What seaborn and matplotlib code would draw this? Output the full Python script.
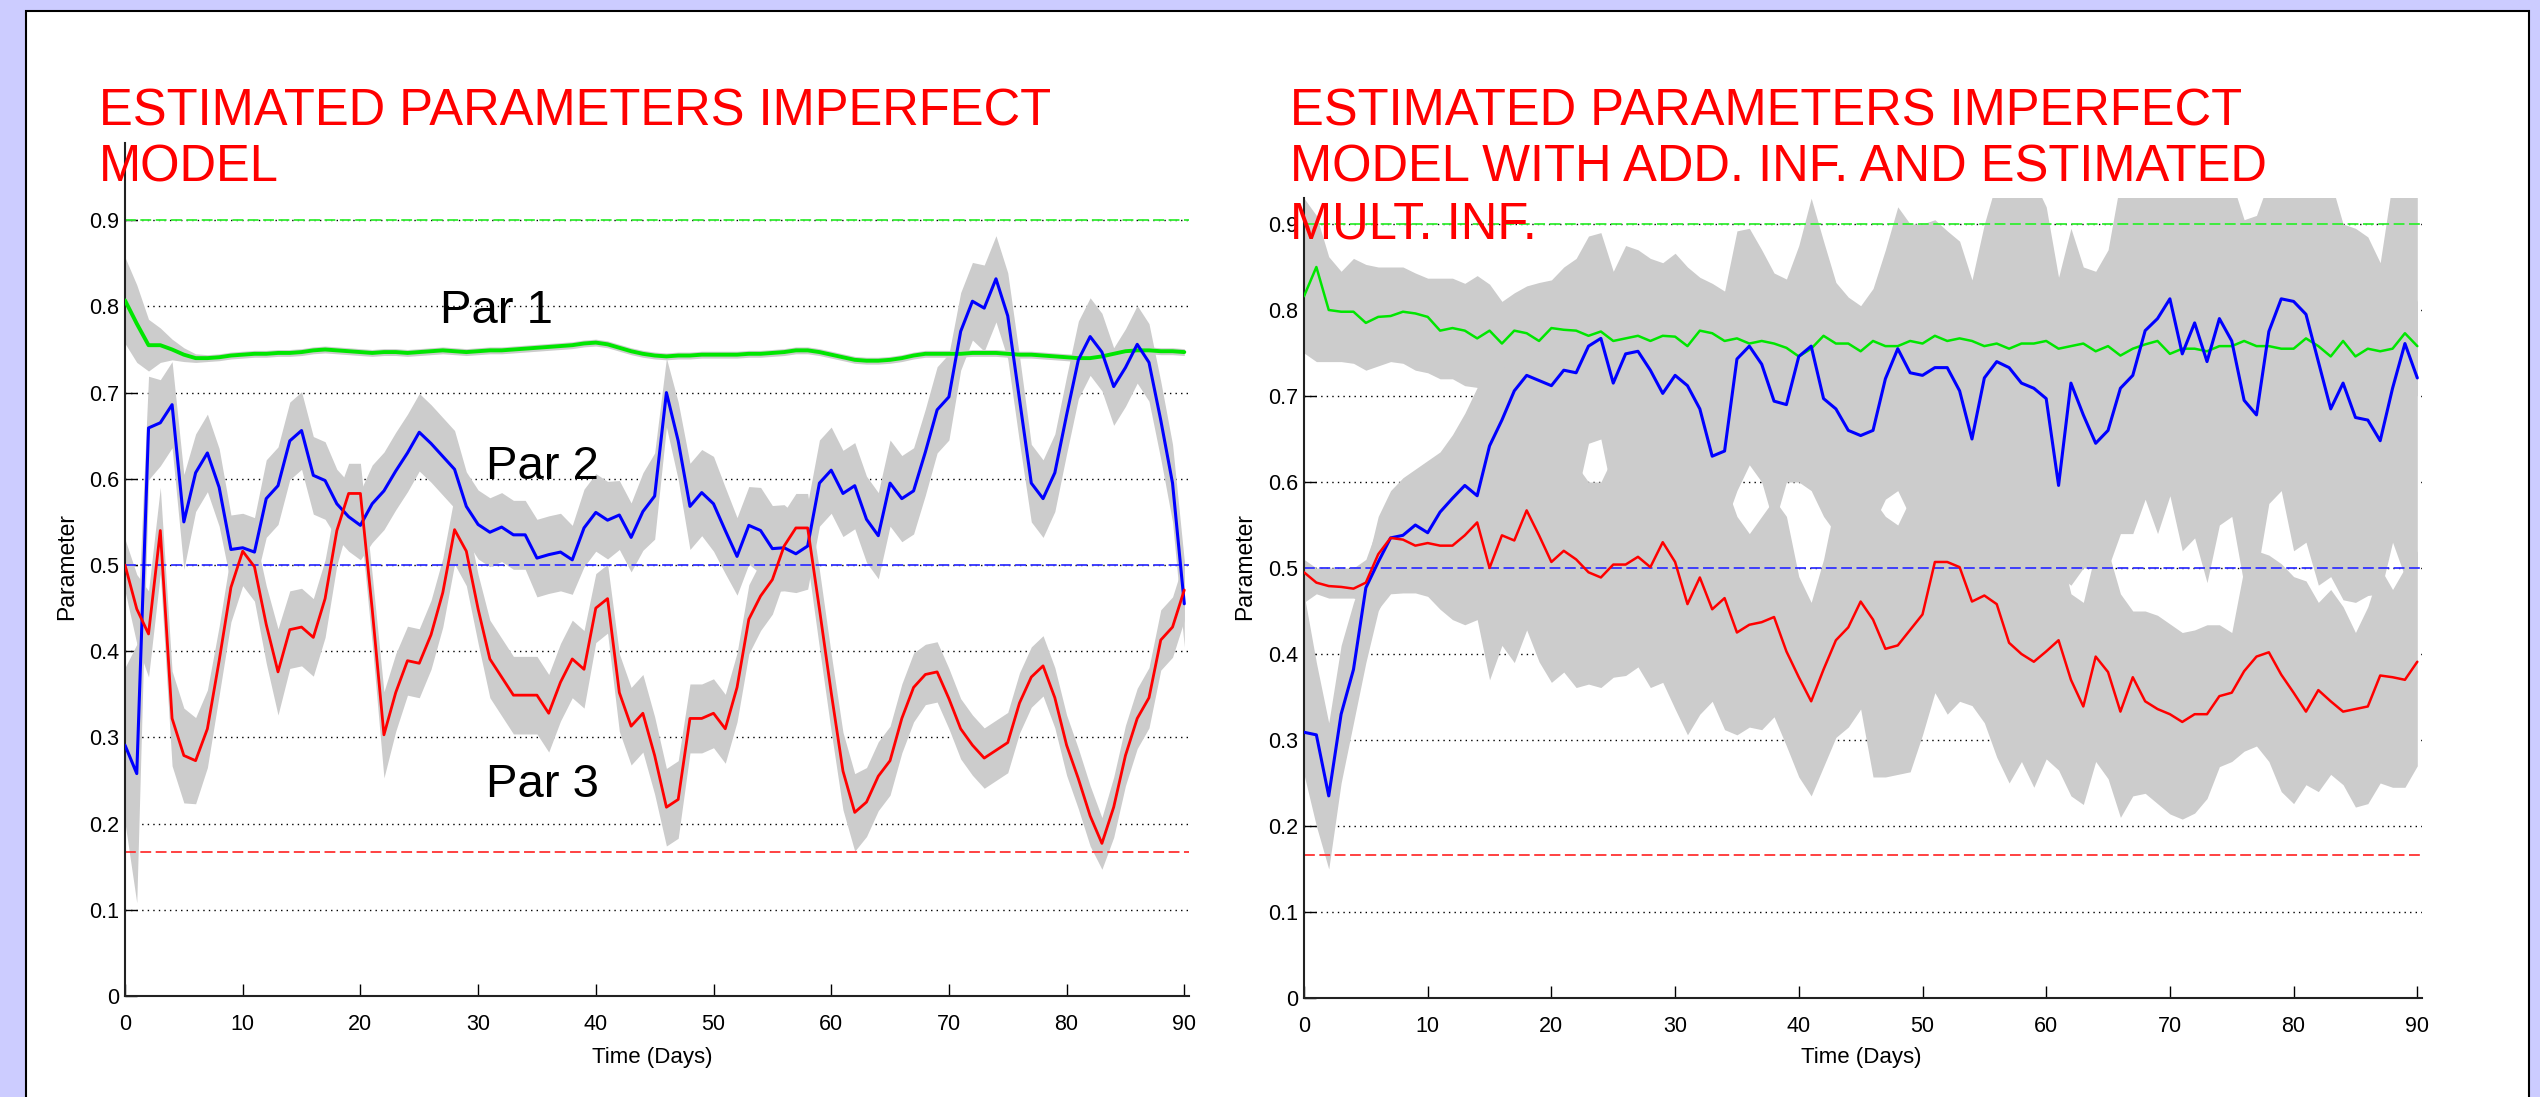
import numpy as np
import matplotlib
matplotlib.use("Agg")
import matplotlib.pyplot as plt
from matplotlib.patches import Rectangle
import seaborn as sns

# ---- data (one value per day) ----
days = list(range(91))

x_ticks = [0, 10, 20, 30, 40, 50, 60, 70, 80, 90]
y_ticks = [0, 0.1, 0.2, 0.3, 0.4, 0.5, 0.6, 0.7, 0.8, 0.9]
y_tick_labels = ["0", "0.1", "0.2", "0.3", "0.4", "0.5", "0.6", "0.7", "0.8", "0.9"]

true_values = [0.9, 0.5, 0.1667]

# left panel: estimated means and band half-widths
left_par1 = [0.807, 0.780, 0.755, 0.755, 0.750, 0.744, 0.740, 0.740, 0.741, 0.743,
             0.744, 0.745, 0.745, 0.746, 0.746, 0.747, 0.749, 0.750, 0.749, 0.748,
             0.747, 0.746, 0.747, 0.747, 0.746, 0.747, 0.748, 0.749, 0.748, 0.747,
             0.748, 0.749, 0.749, 0.750, 0.751, 0.752, 0.753, 0.754, 0.755, 0.757,
             0.758, 0.756, 0.752, 0.748, 0.745, 0.743, 0.742, 0.743, 0.743, 0.744,
             0.744, 0.744, 0.744, 0.745, 0.745, 0.746, 0.747, 0.749, 0.749, 0.747,
             0.744, 0.741, 0.738, 0.737, 0.737, 0.738, 0.740, 0.743, 0.745, 0.745,
             0.745, 0.745, 0.746, 0.746, 0.746, 0.745, 0.744, 0.744, 0.743, 0.742,
             0.741, 0.740, 0.740, 0.742, 0.745, 0.748, 0.749, 0.749, 0.748, 0.748,
             0.747]
left_par1_hw = [0.050, 0.045, 0.030, 0.020, 0.012, 0.008, 0.005, 0.004, 0.004, 0.004,
                0.004, 0.004, 0.004, 0.004, 0.004, 0.004, 0.004, 0.004, 0.004, 0.004,
                0.004, 0.004, 0.004, 0.004, 0.004, 0.004, 0.004, 0.004, 0.004, 0.004,
                0.004, 0.004, 0.004, 0.004, 0.004, 0.004, 0.004, 0.004, 0.004, 0.004,
                0.004, 0.004, 0.004, 0.004, 0.004, 0.004, 0.004, 0.004, 0.004, 0.004,
                0.004, 0.004, 0.004, 0.004, 0.004, 0.004, 0.004, 0.004, 0.004, 0.004,
                0.004, 0.004, 0.004, 0.004, 0.004, 0.004, 0.004, 0.004, 0.004, 0.004,
                0.004, 0.004, 0.004, 0.004, 0.004, 0.004, 0.004, 0.004, 0.004, 0.004,
                0.004, 0.004, 0.004, 0.004, 0.004, 0.004, 0.004, 0.004, 0.004, 0.004,
                0.004]
left_par2 = [0.291, 0.258, 0.659, 0.665, 0.686, 0.550, 0.607, 0.630, 0.590, 0.518,
             0.520, 0.515, 0.577, 0.592, 0.644, 0.656, 0.604, 0.598, 0.571, 0.556,
             0.546, 0.571, 0.586, 0.609, 0.630, 0.654, 0.641, 0.626, 0.611, 0.568,
             0.547, 0.538, 0.544, 0.535, 0.535, 0.508, 0.512, 0.515, 0.506, 0.543,
             0.561, 0.552, 0.558, 0.532, 0.562, 0.580, 0.700, 0.644, 0.568, 0.584,
             0.571, 0.540, 0.510, 0.546, 0.540, 0.519, 0.520, 0.513, 0.522, 0.595,
             0.610, 0.583, 0.592, 0.553, 0.534, 0.595, 0.577, 0.586, 0.631, 0.680,
             0.695, 0.771, 0.806, 0.798, 0.832, 0.789, 0.692, 0.595, 0.577, 0.607,
             0.674, 0.738, 0.765, 0.747, 0.707, 0.729, 0.756, 0.735, 0.668, 0.595,
             0.455]
left_par2_hw = [0.090, 0.150, 0.060, 0.050, 0.050, 0.055, 0.045, 0.045, 0.045, 0.040,
                0.040, 0.040, 0.045, 0.045, 0.045, 0.045, 0.045, 0.045, 0.040, 0.040,
                0.040, 0.045, 0.045, 0.045, 0.045, 0.045, 0.045, 0.045, 0.045, 0.040,
                0.040, 0.040, 0.040, 0.040, 0.040, 0.045, 0.045, 0.045, 0.040, 0.045,
                0.045, 0.045, 0.040, 0.040, 0.045, 0.050, 0.040, 0.045, 0.050, 0.050,
                0.055, 0.050, 0.045, 0.045, 0.050, 0.050, 0.050, 0.045, 0.050, 0.050,
                0.050, 0.050, 0.050, 0.050, 0.050, 0.050, 0.050, 0.050, 0.050, 0.050,
                0.050, 0.045, 0.045, 0.050, 0.050, 0.050, 0.050, 0.045, 0.045, 0.045,
                0.045, 0.045, 0.045, 0.045, 0.045, 0.045, 0.045, 0.045, 0.045, 0.045,
                0.050]
left_par3 = [0.500, 0.449, 0.420, 0.540, 0.322, 0.279, 0.273, 0.310, 0.389, 0.474,
             0.516, 0.498, 0.431, 0.376, 0.425, 0.428, 0.416, 0.461, 0.540, 0.583,
             0.583, 0.449, 0.303, 0.352, 0.389, 0.386, 0.419, 0.468, 0.541, 0.516,
             0.449, 0.391, 0.370, 0.349, 0.349, 0.349, 0.328, 0.364, 0.391, 0.379,
             0.450, 0.461, 0.352, 0.313, 0.328, 0.279, 0.219, 0.228, 0.322, 0.322,
             0.328, 0.310, 0.358, 0.437, 0.464, 0.483, 0.522, 0.543, 0.543, 0.449,
             0.352, 0.261, 0.213, 0.225, 0.255, 0.273, 0.322, 0.358, 0.373, 0.376,
             0.345, 0.310, 0.291, 0.276, 0.285, 0.294, 0.340, 0.370, 0.383, 0.346,
             0.291, 0.252, 0.209, 0.177, 0.219, 0.279, 0.322, 0.346, 0.413, 0.428,
             0.471]
left_par3_hw = [0.030, 0.040, 0.050, 0.050, 0.055, 0.055, 0.050, 0.045, 0.040, 0.040,
                0.040, 0.040, 0.045, 0.050, 0.045, 0.045, 0.045, 0.045, 0.040, 0.035,
                0.035, 0.040, 0.050, 0.045, 0.040, 0.040, 0.040, 0.040, 0.040, 0.040,
                0.040, 0.045, 0.045, 0.045, 0.045, 0.045, 0.045, 0.045, 0.045, 0.045,
                0.040, 0.040, 0.045, 0.045, 0.045, 0.045, 0.045, 0.045, 0.040, 0.040,
                0.040, 0.040, 0.040, 0.040, 0.040, 0.040, 0.040, 0.040, 0.040, 0.045,
                0.045, 0.045, 0.045, 0.040, 0.040, 0.040, 0.040, 0.040, 0.035, 0.035,
                0.035, 0.035, 0.035, 0.035, 0.035, 0.035, 0.035, 0.035, 0.035, 0.035,
                0.035, 0.035, 0.035, 0.030, 0.035, 0.035, 0.035, 0.035, 0.035, 0.035,
                0.035]

# right panel: estimated means with band low / high edges
right_par1 = [0.816, 0.850, 0.800, 0.798, 0.798, 0.785, 0.792, 0.793, 0.798, 0.796,
              0.792, 0.776, 0.779, 0.776, 0.767, 0.776, 0.761, 0.776, 0.773, 0.764,
              0.779, 0.777, 0.776, 0.770, 0.775, 0.764, 0.767, 0.770, 0.764, 0.770,
              0.769, 0.758, 0.776, 0.773, 0.764, 0.767, 0.761, 0.764, 0.761, 0.756,
              0.746, 0.755, 0.770, 0.761, 0.761, 0.752, 0.764, 0.758, 0.758, 0.764,
              0.761, 0.770, 0.764, 0.767, 0.764, 0.758, 0.761, 0.755, 0.761, 0.761,
              0.764, 0.755, 0.758, 0.761, 0.752, 0.758, 0.747, 0.755, 0.760, 0.764,
              0.749, 0.755, 0.755, 0.752, 0.758, 0.758, 0.764, 0.758, 0.758, 0.755,
              0.755, 0.767, 0.758, 0.746, 0.764, 0.746, 0.755, 0.752, 0.755, 0.773,
              0.758]
right_par1_lo = [0.750, 0.740, 0.740, 0.740, 0.738, 0.730, 0.735, 0.740, 0.738, 0.730,
                 0.727, 0.720, 0.720, 0.712, 0.710, 0.700, 0.700, 0.705, 0.705, 0.700,
                 0.705, 0.705, 0.705, 0.700, 0.705, 0.700, 0.700, 0.705, 0.700, 0.705,
                 0.705, 0.700, 0.705, 0.705, 0.700, 0.700, 0.700, 0.700, 0.700, 0.695,
                 0.690, 0.695, 0.705, 0.700, 0.700, 0.695, 0.700, 0.700, 0.700, 0.700,
                 0.700, 0.705, 0.700, 0.705, 0.700, 0.700, 0.700, 0.695, 0.700, 0.700,
                 0.700, 0.695, 0.700, 0.700, 0.695, 0.700, 0.690, 0.695, 0.700, 0.700,
                 0.690, 0.695, 0.695, 0.695, 0.700, 0.700, 0.700, 0.700, 0.700, 0.695,
                 0.695, 0.705, 0.700, 0.690, 0.700, 0.690, 0.695, 0.695, 0.695, 0.710,
                 0.700]
right_par1_hi = [0.930, 0.910, 0.862, 0.845, 0.860, 0.853, 0.850, 0.850, 0.850, 0.843,
                 0.837, 0.837, 0.837, 0.831, 0.840, 0.830, 0.810, 0.820, 0.828, 0.832,
                 0.835, 0.850, 0.860, 0.886, 0.890, 0.845, 0.875, 0.870, 0.860, 0.855,
                 0.866, 0.850, 0.838, 0.831, 0.822, 0.892, 0.895, 0.870, 0.843, 0.836,
                 0.875, 0.930, 0.880, 0.832, 0.815, 0.805, 0.825, 0.870, 0.920, 0.900,
                 0.900, 0.905, 0.892, 0.880, 0.835, 0.900, 0.950, 0.950, 0.950, 0.950,
                 0.920, 0.838, 0.895, 0.850, 0.845, 0.870, 0.950, 0.950, 0.950, 0.950,
                 0.950, 0.950, 0.950, 0.950, 0.950, 0.950, 0.905, 0.910, 0.950, 0.950,
                 0.950, 0.950, 0.950, 0.950, 0.900, 0.895, 0.885, 0.855, 0.950, 0.950,
                 0.950]
right_par2 = [0.309, 0.306, 0.235, 0.330, 0.382, 0.477, 0.507, 0.535, 0.538, 0.550,
              0.541, 0.565, 0.581, 0.596, 0.584, 0.642, 0.672, 0.706, 0.724, 0.718,
              0.712, 0.730, 0.727, 0.758, 0.767, 0.715, 0.749, 0.752, 0.730, 0.703,
              0.724, 0.712, 0.685, 0.630, 0.636, 0.743, 0.758, 0.737, 0.694, 0.690,
              0.746, 0.758, 0.697, 0.685, 0.660, 0.654, 0.660, 0.720, 0.755, 0.727,
              0.724, 0.733, 0.733, 0.706, 0.650, 0.721, 0.740, 0.733, 0.715, 0.709,
              0.697, 0.596, 0.715, 0.678, 0.645, 0.660, 0.709, 0.724, 0.776, 0.790,
              0.813, 0.749, 0.785, 0.740, 0.790, 0.764, 0.695, 0.678, 0.775, 0.813,
              0.810, 0.795, 0.740, 0.685, 0.715, 0.675, 0.672, 0.648, 0.709, 0.761,
              0.721]
right_par2_lo = [0.260, 0.200, 0.150, 0.250, 0.320, 0.390, 0.450, 0.480, 0.490, 0.500,
                 0.500, 0.510, 0.520, 0.530, 0.540, 0.550, 0.560, 0.570, 0.580, 0.580,
                 0.580, 0.580, 0.580, 0.645, 0.650, 0.580, 0.580, 0.580, 0.570, 0.560,
                 0.560, 0.550, 0.550, 0.540, 0.550, 0.590, 0.620, 0.600, 0.550, 0.600,
                 0.600, 0.590, 0.560, 0.540, 0.540, 0.540, 0.550, 0.580, 0.590, 0.560,
                 0.560, 0.560, 0.560, 0.550, 0.530, 0.530, 0.520, 0.510, 0.500, 0.500,
                 0.500, 0.490, 0.480, 0.500, 0.500, 0.500, 0.540, 0.540, 0.580, 0.540,
                 0.584, 0.520, 0.535, 0.483, 0.550, 0.560, 0.480, 0.490, 0.575, 0.590,
                 0.520, 0.530, 0.480, 0.490, 0.463, 0.460, 0.468, 0.470, 0.530, 0.490,
                 0.500]
right_par2_hi = [0.470, 0.390, 0.320, 0.410, 0.460, 0.500, 0.560, 0.590, 0.605, 0.615,
                 0.625, 0.635, 0.655, 0.680, 0.710, 0.740, 0.780, 0.800, 0.810, 0.810,
                 0.810, 0.820, 0.820, 0.830, 0.840, 0.820, 0.830, 0.830, 0.820, 0.800,
                 0.810, 0.800, 0.790, 0.780, 0.790, 0.820, 0.830, 0.820, 0.790, 0.790,
                 0.820, 0.830, 0.800, 0.790, 0.780, 0.780, 0.780, 0.800, 0.830, 0.810,
                 0.810, 0.820, 0.820, 0.800, 0.780, 0.800, 0.820, 0.820, 0.800, 0.800,
                 0.790, 0.760, 0.800, 0.790, 0.770, 0.780, 0.800, 0.810, 0.850, 0.860,
                 0.870, 0.830, 0.850, 0.830, 0.850, 0.840, 0.800, 0.790, 0.840, 0.870,
                 0.870, 0.860, 0.830, 0.800, 0.810, 0.790, 0.790, 0.780, 0.800, 0.830,
                 0.810]
right_par3 = [0.495, 0.483, 0.479, 0.478, 0.476, 0.483, 0.516, 0.535, 0.533, 0.526,
              0.529, 0.526, 0.526, 0.538, 0.553, 0.500, 0.538, 0.532, 0.567, 0.538,
              0.507, 0.520, 0.510, 0.495, 0.489, 0.504, 0.504, 0.513, 0.501, 0.530,
              0.507, 0.458, 0.489, 0.452, 0.465, 0.425, 0.434, 0.437, 0.443, 0.403,
              0.373, 0.345, 0.382, 0.416, 0.431, 0.461, 0.440, 0.406, 0.410, 0.428,
              0.446, 0.507, 0.507, 0.501, 0.461, 0.468, 0.458, 0.413, 0.400, 0.391,
              0.403, 0.416, 0.370, 0.339, 0.397, 0.379, 0.333, 0.373, 0.345, 0.336,
              0.330, 0.321, 0.330, 0.330, 0.351, 0.355, 0.380, 0.397, 0.402, 0.376,
              0.355, 0.333, 0.358, 0.345, 0.333, 0.336, 0.339, 0.375, 0.373, 0.370,
              0.391]
right_par3_lo = [0.460, 0.470, 0.465, 0.465, 0.465, 0.460, 0.452, 0.470, 0.471, 0.471,
                 0.467, 0.452, 0.440, 0.434, 0.440, 0.370, 0.410, 0.390, 0.428, 0.391,
                 0.367, 0.379, 0.361, 0.365, 0.361, 0.373, 0.375, 0.385, 0.361, 0.367,
                 0.336, 0.306, 0.330, 0.345, 0.312, 0.306, 0.315, 0.312, 0.327, 0.293,
                 0.257, 0.235, 0.269, 0.303, 0.315, 0.336, 0.257, 0.257, 0.260, 0.263,
                 0.306, 0.355, 0.330, 0.345, 0.340, 0.320, 0.280, 0.250, 0.275, 0.245,
                 0.278, 0.265, 0.235, 0.225, 0.275, 0.255, 0.210, 0.235, 0.238, 0.226,
                 0.214, 0.208, 0.215, 0.232, 0.269, 0.275, 0.287, 0.293, 0.275, 0.240,
                 0.226, 0.248, 0.240, 0.260, 0.248, 0.222, 0.226, 0.250, 0.245, 0.245,
                 0.270]
right_par3_hi = [0.510, 0.500, 0.500, 0.500, 0.500, 0.510, 0.550, 0.570, 0.570, 0.570,
                 0.570, 0.570, 0.580, 0.590, 0.600, 0.600, 0.610, 0.620, 0.630, 0.620,
                 0.620, 0.620, 0.620, 0.600, 0.600, 0.630, 0.620, 0.620, 0.620, 0.630,
                 0.620, 0.600, 0.600, 0.600, 0.600, 0.560, 0.540, 0.560, 0.580, 0.560,
                 0.490, 0.460, 0.510, 0.580, 0.570, 0.580, 0.580, 0.560, 0.550, 0.580,
                 0.580, 0.600, 0.600, 0.600, 0.580, 0.570, 0.560, 0.540, 0.530, 0.530,
                 0.530, 0.530, 0.470, 0.460, 0.520, 0.520, 0.470, 0.450, 0.450, 0.445,
                 0.435, 0.425, 0.428, 0.434, 0.434, 0.425, 0.500, 0.520, 0.515, 0.505,
                 0.490, 0.485, 0.460, 0.475, 0.455, 0.425, 0.455, 0.500, 0.475, 0.500,
                 0.520]

line_colors = ["#00e600", "#0000ff", "#ff0000"]
true_colors = ["#33ee33", "#3333ff", "#ff3333"]
band_color = "#cccccc"

W, H = 2540, 1097

sns.set_theme(style="white")
plt.rcParams["font.family"] = ["Liberation Sans", "DejaVu Sans"]
plt.rcParams["text.color"] = "black"

fig = plt.figure(figsize=(W / 100, H / 100), dpi=100)
fig.patch.set_facecolor("#ccccff")
fig.add_artist(Rectangle((26 / W, -0.01), (2529 - 26) / W, 1.01 - 11 / H,
                         transform=fig.transFigure, facecolor="white",
                         edgecolor="black", linewidth=1.5, zorder=-1))

ax_l = fig.add_axes([125 / W, 1 - 996 / H, 90.4 * 11.77 / W, 0.99 * 862 / H])
ax_r = fig.add_axes([1304 / W, 1 - 998 / H, 90.4 * 12.37 / W, 0.93 * 860 / H])


def style_axes(ax, top):
    ax.set_facecolor("white")
    ax.set_xlim(0, 90.4)
    ax.set_ylim(0, top)
    ax.set_xticks(x_ticks)
    ax.set_xticklabels([str(t) for t in x_ticks])
    ax.set_yticks(y_ticks)
    ax.set_yticklabels(y_tick_labels)
    ax.tick_params(direction="in", length=8.6, width=1.0, colors="black",
                   labelsize=15.5, bottom=True, left=True)
    ax.tick_params(axis="x", pad=13)
    ax.tick_params(axis="y", pad=4)
    ax.yaxis.grid(True, color="black", linestyle=(0, (1, 3)), linewidth=1.0)
    ax.xaxis.grid(False)
    ax.set_axisbelow(True)
    sns.despine(ax=ax)
    for side in ("left", "bottom"):
        ax.spines[side].set_color("#222222")
        ax.spines[side].set_linewidth(1.5)
    ax.set_xlabel("")
    ax.set_ylabel("")


def draw_panel(ax, means, lows, highs, widths):
    for lo, hi in zip(lows, highs):
        ax.fill_between(days, lo, hi, color=band_color, linewidth=0, zorder=1)
    for val, col in zip(true_values, true_colors):
        ax.axhline(val, color=col, linestyle=(0, (6, 2.5)), linewidth=1.3, zorder=2)
    for m, col, lw in zip(means, line_colors, widths):
        sns.lineplot(x=days, y=m, ax=ax, color=col, linewidth=lw,
                     errorbar=None, zorder=3)


left_means = [left_par1, left_par2, left_par3]
left_hw = [left_par1_hw, left_par2_hw, left_par3_hw]
left_lo = [np.array(m) - np.array(h) for m, h in zip(left_means, left_hw)]
left_hi = [np.array(m) + np.array(h) for m, h in zip(left_means, left_hw)]
draw_panel(ax_l, left_means, left_lo, left_hi, [2.8, 2.2, 2.0])
style_axes(ax_l, 0.99)

draw_panel(ax_r, [right_par1, right_par2, right_par3],
           [right_par1_lo, right_par2_lo, right_par3_lo],
           [right_par1_hi, right_par2_hi, right_par3_hi], [1.8, 2.2, 1.8])
style_axes(ax_r, 0.93)

ax_l.text(26.8, 0.781, "Par 1", fontsize=34, ha="left", va="baseline", zorder=5)
ax_l.text(30.7, 0.600, "Par 2", fontsize=34, ha="left", va="baseline", zorder=5)
ax_l.text(30.7, 0.231, "Par 3", fontsize=34, ha="left", va="baseline", zorder=5)

# axis labels and titles
for cx in (67, 1245):
    fig.text(cx / W, 1 - 566 / H, "Parameter", rotation=90, ha="center",
             va="center", fontsize=16.5)
for cx in (652, 1861):
    fig.text(cx / W, 1 - 1057 / H, "Time (Days)", ha="center", va="center",
             fontsize=16)

fig.text(99 / W, 1 - 87 / H, "ESTIMATED PARAMETERS IMPERFECT\nMODEL",
         color="red", fontsize=36.5, ha="left", va="top", linespacing=1.2)
fig.text(1290 / W, 1 - 87 / H,
         "ESTIMATED PARAMETERS IMPERFECT\nMODEL WITH ADD. INF. AND ESTIMATED\nMULT. INF.",
         color="red", fontsize=36.5, ha="left", va="top", linespacing=1.2)

fig.savefig("out.png", dpi=100, facecolor=fig.get_facecolor())
